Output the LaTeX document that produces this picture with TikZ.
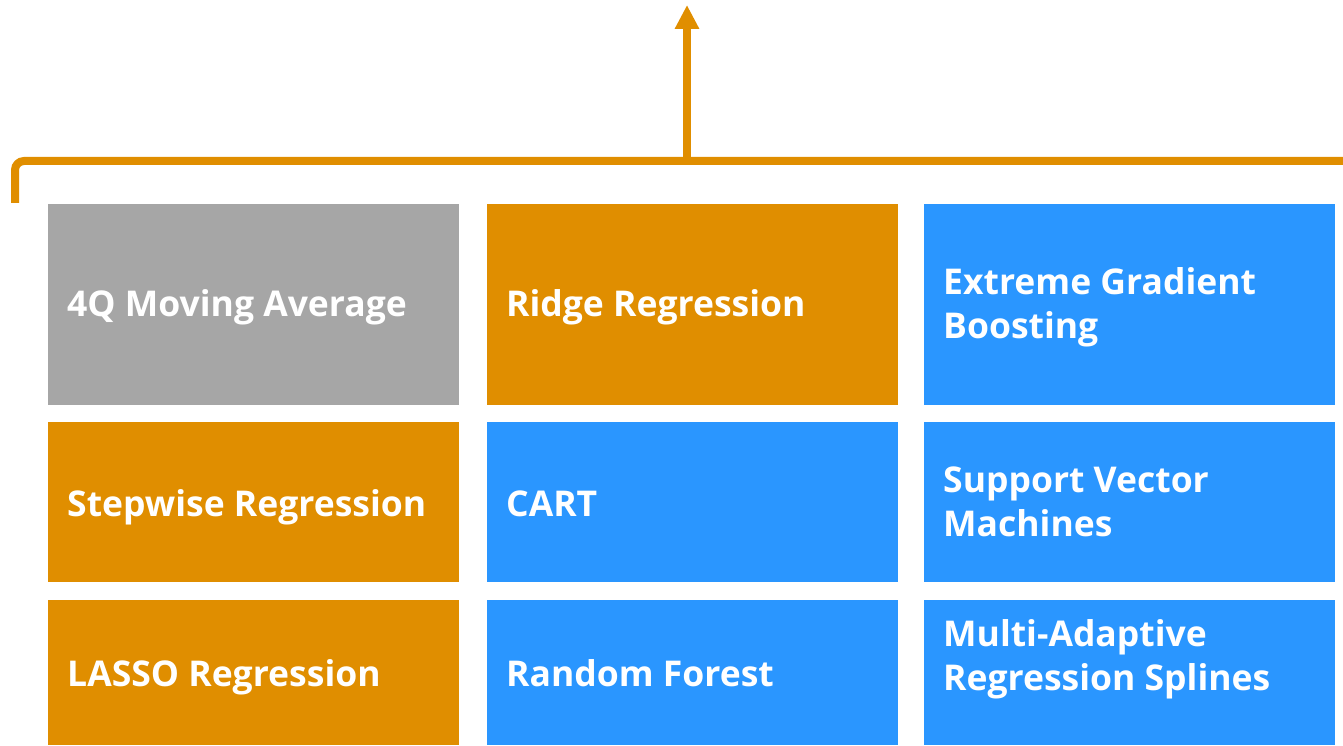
\documentclass[tikz,border=0pt]{standalone}
\usepackage{fontspec}
\setmainfont{Open Sans}
\usetikzlibrary{arrows.meta}
\definecolor{cgray}{RGB}{166,166,166}
\definecolor{corange}{RGB}{224,142,0}
\definecolor{cblue}{RGB}{42,150,255}
\tikzset{
  tile/.style={anchor=north west, minimum width=411pt, inner sep=0pt},
  row1/.style={tile, minimum height=201pt},
  row2/.style={tile, minimum height=160pt},
  row3/.style={tile, minimum height=145pt},
  lbl/.style={anchor=base west, inner sep=0pt, align=left, text=white,
    font=\fontsize{35.5}{44}\selectfont\bfseries},
  bracketline/.style={draw=corange, line width=8pt},
}
\begin{document}
\begin{tikzpicture}[x=1pt,y=-1pt]
\useasboundingbox (0,0) rectangle (1343,746);
\node[row1, fill=cgray]   (ma)    at (48,204)  {};
\node[row1, fill=corange] (ridge) at (487,204) {};
\node[row1, fill=cblue]   (xgb)   at (924,204) {};
\node[row2, fill=corange] (step)  at (48,422)  {};
\node[row2, fill=cblue]   (cart)  at (487,422) {};
\node[row2, fill=cblue]   (svm)   at (924,422) {};
\node[row3, fill=corange] (lasso) at (48,600)  {};
\node[row3, fill=cblue]   (rf)    at (487,600) {};
\node[row3, fill=cblue]   (mars)  at (924,600) {};
\node[lbl] (ma-t)    at ([xshift=19pt,yshift=-112pt]ma.north west)    {4Q Moving Average};
\node[lbl] (ridge-t) at ([xshift=19pt,yshift=-112pt]ridge.north west) {Ridge Regression};
\node[lbl] (xgb-t)   at ([xshift=19pt,yshift=-134pt]xgb.north west)   {Extreme Gradient\\Boosting};
\node[lbl] (step-t)  at ([xshift=19pt,yshift=-94pt]step.north west)   {Stepwise Regression};
\node[lbl] (cart-t)  at ([xshift=19pt,yshift=-94pt]cart.north west)   {CART};
\node[lbl] (svm-t)   at ([xshift=19pt,yshift=-114pt]svm.north west)   {Support Vector\\Machines};
\node[lbl] (lasso-t) at ([xshift=19pt,yshift=-86pt]lasso.north west)  {LASSO Regression};
\node[lbl] (rf-t)    at ([xshift=19pt,yshift=-86pt]rf.north west)     {Random Forest};
\node[lbl] (mars-t)  at ([xshift=19pt,yshift=-90pt]mars.north west)   {Multi-Adaptive\\Regression Splines};
\coordinate (bl) at (15,203);
\coordinate (bc) at (15,161);
\coordinate (br) at (1343,161);
\coordinate (base) at (687,161);
\coordinate (tip) at (687,5);
\draw[bracketline, rounded corners=9pt] (bl) -- (bc) -- (br);
\draw[bracketline, -{Triangle[width=23pt,length=24pt]}] (base) -- (tip);
\end{tikzpicture}
\end{document}
